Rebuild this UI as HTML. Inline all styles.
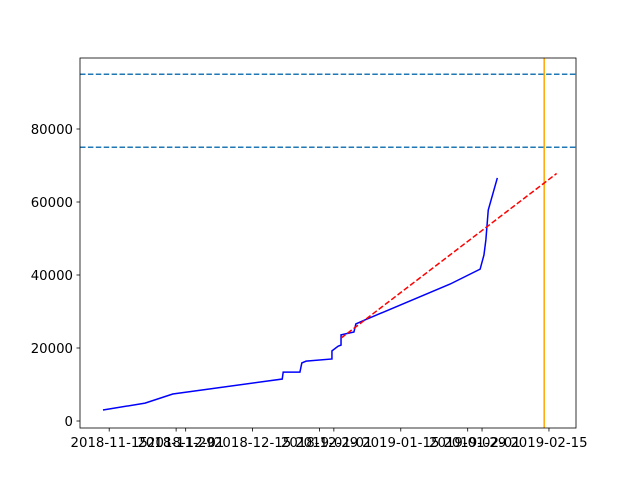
<!DOCTYPE html>
<html><head><meta charset="utf-8"><style>
body{margin:0;background:#fff;}
svg text{font-family:"DejaVu Sans","Liberation Sans",sans-serif;font-size:13.3px;fill:#000;}
</style></head><body>
<svg id="chart" width="640" height="480" xmlns="http://www.w3.org/2000/svg"></svg>
<script>
// days since 2018-11-15
const blueDays=[-1.3,7.5,13.3,36.2,36.4,39.9,40.3,41.2,46.6,46.6,47.9,48.5,48.5,51.2,51.6,53.5,71.3,77.6,78.4,78.8,79.3,81.2];
const blueVals=[3000,4900,7400,11500,13400,13400,15900,16400,17000,19200,20500,20800,23600,24400,26600,27700,37500,41600,45500,49600,57800,66600];
const trendDays=[48.5,93.6];
const trendVals=[22700,67800];
const hLines=[95000,75000];
const vLineDay=[91.0];
const xTickDays=[0,14,16,30,44,47,61,75,78,92];
const xTickLabels=["2018-11-15","2018-11-29","2018-12-01","2018-12-15","2018-12-29","2019-01-01","2019-01-15","2019-01-29","2019-02-01","2019-02-15"];
const yTicks=[0,20000,40000,60000,80000];

const L=80,R=576,T=58,B=428;
const x=d=>109.2+d*4.78;
const y=v=>421-v/20000*73;
const svg=document.getElementById('chart');
const NS="http://www.w3.org/2000/svg";
function mk(t,a){const e=document.createElementNS(NS,t);for(const k in a)e.setAttribute(k,a[k]);svg.appendChild(e);return e;}

hLines.forEach(v=>{const e=mk('line',{x1:L,x2:R,y1:y(v),y2:y(v),stroke:'#1f77b4','stroke-width':1.5,'stroke-dasharray':'5.5,2.4'});

});
vLineDay.forEach(d=>{const e=mk('line',{x1:x(d),x2:x(d),y1:T,y2:B,stroke:'orange','stroke-width':1.5});

});
const bl=mk('polyline',{points:blueDays.map((d,i)=>x(d)+','+y(blueVals[i])).join(' '),fill:'none',stroke:'blue','stroke-width':1.5});


const tl=mk('polyline',{points:trendDays.map((d,i)=>x(d)+','+y(trendVals[i])).join(' '),fill:'none',stroke:'red','stroke-width':1.5,'stroke-dasharray':'5.5,2.4'});



const fr=mk('rect',{x:L,y:T,width:R-L,height:B-T,fill:'none',stroke:'#000','stroke-width':0.8});



xTickDays.forEach((d,i)=>{mk('line',{x1:x(d),x2:x(d),y1:B,y2:B+3.5,stroke:'#000','stroke-width':0.8});
const t=mk('text',{x:x(d),y:B+19,'text-anchor':'middle'});t.textContent=xTickLabels[i];

});
yTicks.forEach(v=>{mk('line',{x1:L-3.5,x2:L,y1:y(v),y2:y(v),stroke:'#000','stroke-width':0.8});
const t=mk('text',{x:L-7,y:y(v)+5,'text-anchor':'end'});t.textContent=String(v);

});
</script>
</body></html>
